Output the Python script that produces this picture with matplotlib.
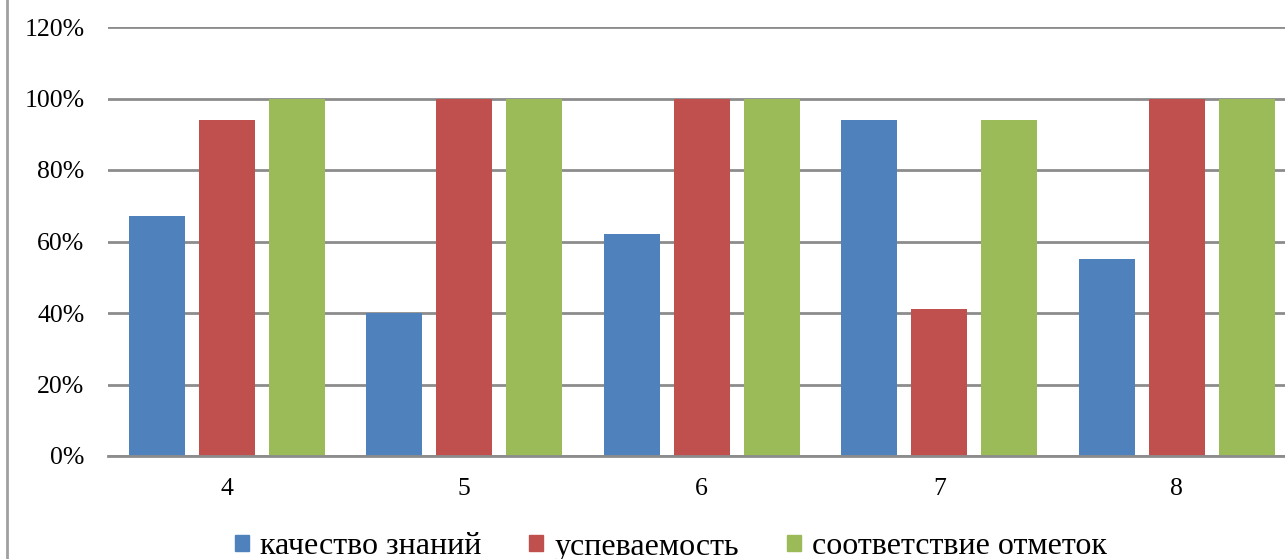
import matplotlib.pyplot as plt
from matplotlib.patches import Patch
from matplotlib.lines import Line2D
import numpy as np

plt.rcParams['font.family'] = ['Liberation Serif', 'DejaVu Serif']

# data
categories = ["4", "5", "6", "7", "8"]
series_names = ["качество знаний", "успеваемость", "соответствие отметок"]
quality = [0.67, 0.40, 0.62, 0.94, 0.55]
progress = [0.94, 1.00, 1.00, 0.41, 1.00]
marks = [1.00, 1.00, 1.00, 0.94, 1.00]
colors = ["#4F81BD", "#C0504D", "#9BBB59"]
y_ticks = [0, 0.2, 0.4, 0.6, 0.8, 1.0, 1.2]
y_tick_labels = ["0%", "20%", "40%", "60%", "80%", "100%", "120%"]

W, H = 1285, 559
fig = plt.figure(figsize=(W / 100, H / 100), dpi=100)
# plot area runs past the right edge (the source picture is cropped)
left, right = 108 / W, 1295.5 / W
bottom, top = 1 - 456 / H, 1 - 27 / H
ax = fig.add_axes([left, bottom, right - left, top - bottom])

x = np.arange(len(categories))
width = 0.236
offset = 0.295
for i, vals in enumerate([quality, progress, marks]):
    ax.bar(x + (i - 1) * offset, vals, width, color=colors[i], zorder=3)

ax.set_xlim(-0.5, len(categories) - 0.5)
ax.set_ylim(0, 1.2)
ax.set_yticks(y_ticks)
ax.set_yticklabels(y_tick_labels)
ax.set_xticks(x)
ax.set_xticklabels(categories)
ax.tick_params(axis="y", length=0, pad=17, labelsize=18.5)
ax.tick_params(axis="x", length=0, pad=16, labelsize=18.5)

ax.grid(axis="y", color="#8c8c8c", linewidth=2, zorder=0)
for s in ["top", "right", "left"]:
    ax.spines[s].set_visible(False)
ax.spines["bottom"].set_color("#8c8c8c")
ax.spines["bottom"].set_linewidth(2)
ax.spines["bottom"].set_zorder(4)

# outer chart border on the left
fig.add_artist(Line2D([6.5 / W, 6.5 / W], [0, 1], color="#a0a0a0", linewidth=2))

handles = [Patch(color=c) for c in colors]
fig.legend(handles, series_names, loc="center", bbox_to_anchor=(671 / W, 1 - 547 / H),
           ncol=3, frameon=False, fontsize=23, handlelength=0.43, handleheight=0.43,
           handletextpad=0.35, columnspacing=1.5, borderpad=0)

fig.savefig("out.png", dpi=100)
